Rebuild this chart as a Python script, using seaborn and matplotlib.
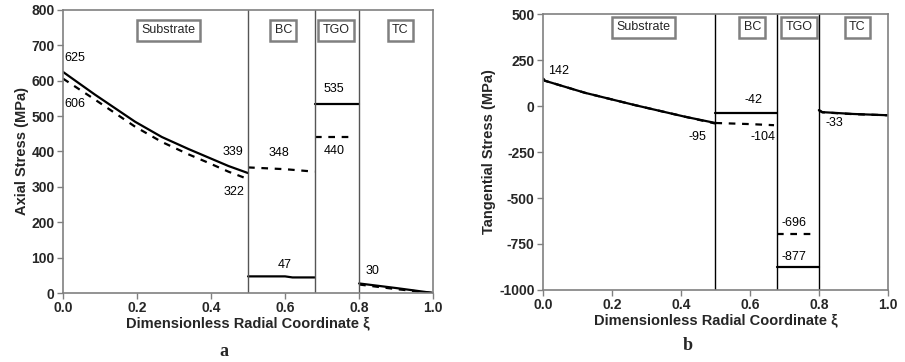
import numpy as np
import pandas as pd
import matplotlib
matplotlib.use("Agg")
import matplotlib.pyplot as plt
import seaborn as sns

# ---------------- data ----------------
# Panel a: axial stress (MPa)
a_sub_x = [0.0, 0.086, 0.195, 0.267, 0.339, 0.393, 0.447, 0.5]
a_sub_solid = [625, 561, 484, 441, 407, 383, 359, 339]
a_sub_dash = [606, 547, 470, 427, 392, 368, 343, 322]
a_bc_x = [0.5, 0.6, 0.62, 0.68]
a_bc_solid = [47, 47, 44, 44]
a_bc_dash_x = [0.5, 0.6, 0.68]
a_bc_dash = [355, 350, 343]
a_tgo_x = [0.68, 0.8]
a_tgo_solid = [535, 535]
a_tgo_dash_x = [0.68, 0.79]
a_tgo_dash = [440, 440]
a_tc_x = [0.8, 0.9, 1.0]
a_tc_solid = [27, 14, 0]
a_tc_dash = [24, 11, 0]

# Panel b: tangential stress (MPa)
b_sub_x = [0.0, 0.005, 0.122, 0.267, 0.412, 0.5]
b_sub_solid = [150, 138, 72, 5, -58, -92]
b_sub_dash = [150, 138, 72, 5, -58, -95]
b_bc_x = [0.5, 0.68]
b_bc_solid = [-40, -40]
b_bc_dash_x = [0.5, 0.6, 0.67]
b_bc_dash = [-92, -98, -104]
b_tgo_x = [0.68, 0.8]
b_tgo_solid = [-877, -877]
b_tgo_dash_x = [0.68, 0.78]
b_tgo_dash = [-696, -696]
b_tc_x = [0.8, 0.81, 0.9, 1.0]
b_tc_solid = [-22, -33, -43, -50]
b_tc_dash = [-22, -34, -44, -50]

regions = ["Substrate", "BC", "TGO", "TC"]
boundaries = [0.5, 0.68, 0.8]

a_labels = [("625", 0.005, 665), ("606", 0.005, 534), ("339", 0.43, 399),
            ("322", 0.435, 285), ("348", 0.555, 395), ("47", 0.58, 78),
            ("535", 0.705, 578), ("440", 0.705, 402), ("30", 0.818, 62)]
a_region_pos = [(0.285, 743), (0.595, 743), (0.737, 743), (0.911, 743)]

b_labels = [("142", 0.014, 188), ("-95", 0.422, -167), ("-42", 0.583, 33),
            ("-104", 0.602, -167), ("-696", 0.692, -634), ("-877", 0.692, -819),
            ("-33", 0.818, -92)]
b_region_pos = [(0.291, 429), (0.607, 429), (0.742, 429), (0.912, 429)]

# ---------------- style ----------------
sns.set_theme(style="ticks")
plt.rcParams['font.family'] = ['Liberation Sans', 'DejaVu Sans']
plt.rcParams['axes.unicode_minus'] = False

fig = plt.figure(figsize=(9.05, 3.62), dpi=100)
axA = fig.add_axes([0.0696, 0.1906, 0.409, 0.7818])
axB = fig.add_axes([0.6, 0.199, 0.381, 0.762])


def seg(ax, x, y, dashed):
    sns.lineplot(x=x, y=y, ax=ax, color="black", lw=1.6, sort=False,
                 linestyle=(0, (3, 3)) if dashed else "-", estimator=None)


# panel a
for x, ys, yd in [(a_sub_x, a_sub_solid, a_sub_dash), (a_tc_x, a_tc_solid, a_tc_dash)]:
    seg(axA, x, yd, True)
    seg(axA, x, ys, False)
seg(axA, a_bc_x, a_bc_solid, False)
seg(axA, a_bc_dash_x, a_bc_dash, True)
seg(axA, a_tgo_x, a_tgo_solid, False)
seg(axA, a_tgo_dash_x, a_tgo_dash, True)

# panel b
for x, ys, yd in [(b_sub_x, b_sub_solid, b_sub_dash), (b_tc_x, b_tc_solid, b_tc_dash)]:
    seg(axB, x, yd, True)
    seg(axB, x, ys, False)
seg(axB, b_bc_x, b_bc_solid, False)
seg(axB, b_bc_dash_x, b_bc_dash, True)
seg(axB, b_tgo_x, b_tgo_solid, False)
seg(axB, b_tgo_dash_x, b_tgo_dash, True)

box = dict(boxstyle="square,pad=0.35", fc="white", ec="#808080", lw=1.8)

for ax, ylim, yticks, ylabel, labels, rpos, bcol in [
        (axA, (0, 800), np.arange(0, 801, 100), "Axial Stress (MPa)", a_labels, a_region_pos, "#555555"),
        (axB, (-1000, 500), np.arange(-1000, 501, 250), "Tangential Stress (MPa)", b_labels, b_region_pos, "black")]:
    ax.set_xlim(0, 1)
    ax.set_ylim(*ylim)
    ax.set_yticks(yticks)
    ax.set_xticks(np.arange(0, 1.01, 0.2))
    ax.set_xticklabels([f"{v:.1f}" for v in np.arange(0, 1.01, 0.2)])
    for b in boundaries:
        ax.axvline(b, color=bcol, lw=1.0)
    for s in ax.spines.values():
        s.set_color("#808080")
        s.set_linewidth(1.2)
    ax.tick_params(axis="both", direction="out", length=4, width=1, color="#808080",
                   labelsize=10, pad=2)
    for t in ax.get_xticklabels() + ax.get_yticklabels():
        t.set_fontweight("bold")
    ax.set_xlabel("Dimensionless Radial Coordinate ξ", fontsize=10.5, fontweight="bold", labelpad=1)
    ax.set_ylabel(ylabel, fontsize=10.5, fontweight="bold", labelpad=2)
    for txt, x, y in labels:
        ax.text(x, y, txt, fontsize=9, ha="left", va="center", color="black")
    for name, (x, y) in zip(regions, rpos):
        ax.text(x, y, name, fontsize=9, ha="center", va="center", bbox=box)

fig.text(224 / 905, 1 - 352 / 362, "a", fontsize=13, fontweight="bold",
         family=["Liberation Serif", "DejaVu Serif"], ha="center", va="center")
fig.text(688 / 905, 1 - 345 / 362, "b", fontsize=13, fontweight="bold",
         family=["Liberation Serif", "DejaVu Serif"], ha="center", va="center")

fig.savefig("out.png", dpi=100)
